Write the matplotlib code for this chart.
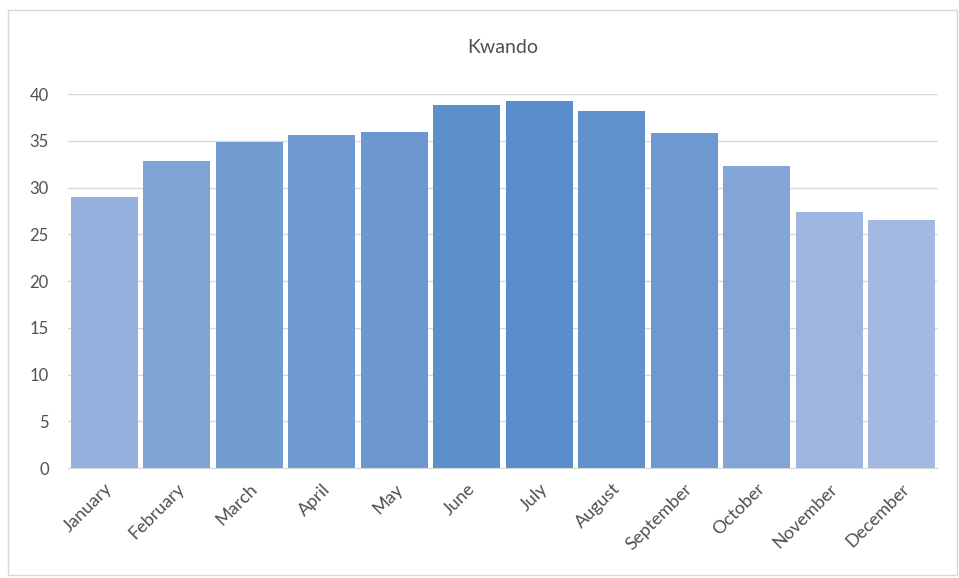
import numpy as np
import matplotlib.pyplot as plt
from matplotlib.colors import to_rgb
from matplotlib.patches import Rectangle

plt.rcParams['font.family'] = ['Lato', 'DejaVu Sans']

months = ['January', 'February', 'March', 'April', 'May', 'June',
          'July', 'August', 'September', 'October', 'November', 'December']
values = [29.0, 32.9, 34.9, 35.6, 36.0, 38.8, 39.3, 38.2, 35.8, 32.3, 27.4, 26.5]

# shade bars from light to dark by value (like the original)
light = np.array(to_rgb('#a3b9e1'))
dark = np.array(to_rgb('#5a8dc9'))
v = np.array(values)
t = (v - v.min()) / (v.max() - v.min())
colors = [tuple(light + (dark - light) * ti) for ti in t]

fig = plt.figure(figsize=(9.59, 5.78), dpi=100)
ax = fig.add_axes([0.071, 0.190, 0.907, 0.647])

x = np.arange(len(months))
ax.bar(x, values, width=0.92, color=colors, zorder=2)

ax.set_xlim(-0.5, len(months) - 0.5)
ax.set_ylim(0, 40)
ax.set_yticks(np.arange(0, 41, 5))
ax.yaxis.grid(True, color='#d9d9d9', linewidth=1, zorder=0)
ax.set_xticks(x)
ax.set_xticklabels(months, rotation=45, ha='right', rotation_mode='anchor')
ax.tick_params(axis='both', length=0, labelsize=12, colors='#505050', pad=9)
ax.tick_params(axis='x', labelsize=13)
ax.tick_params(axis='y', pad=14)

for s in ['top', 'right', 'left']:
    ax.spines[s].set_visible(False)
ax.spines['bottom'].set_color('#d9d9d9')

ax.set_title('Kwando', fontsize=14, color='#505050', pad=30)

# light frame around the chart
fig.patches.append(Rectangle((0.008, 0.005), 0.99, 0.978, transform=fig.transFigure,
                             fill=False, edgecolor='#d9d9d9', linewidth=1))

fig.savefig('out.png', dpi=100)
